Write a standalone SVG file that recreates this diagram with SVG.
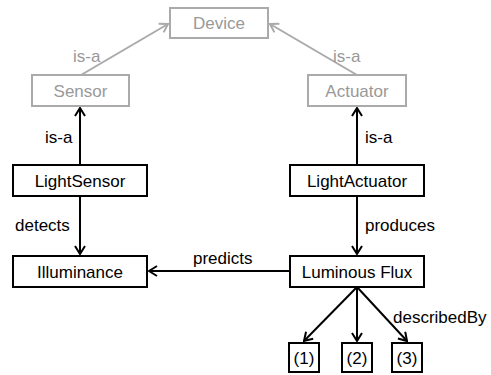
<svg xmlns="http://www.w3.org/2000/svg" width="491" height="375" viewBox="0 0 491 375">
<defs>
<style>
.box{fill:#fff;stroke:#000;stroke-width:2}
.gbox{fill:#fff;stroke:#aaa;stroke-width:2}
.t{font-family:"Liberation Sans",Arial,sans-serif;font-size:17px;fill:#000;text-anchor:middle}
.lbl{font-family:"Liberation Sans",Arial,sans-serif;font-size:17px;fill:#000}
.gt{fill:#999}
.e{stroke:#000;stroke-width:2;fill:none;marker-end:url(#ah)}
.ge{stroke:#aaa;stroke-width:2;fill:none;marker-end:url(#gah)}
</style>
<marker id="ah" viewBox="0 0 10 12" refX="9" refY="6" markerWidth="10" markerHeight="12" markerUnits="userSpaceOnUse" orient="auto">
<path d="M1,1 L9,6 L1,11" fill="none" stroke="#000" stroke-width="2"/>
</marker>
<marker id="gah" viewBox="0 0 10 12" refX="9" refY="6" markerWidth="10" markerHeight="12" markerUnits="userSpaceOnUse" orient="auto">
<path d="M1,1 L9,6 L1,11" fill="none" stroke="#aaa" stroke-width="2"/>
</marker>
</defs>
<g id="connectors">
<line class="ge" x1="81" y1="75" x2="168" y2="24"/>
<line class="ge" x1="357" y1="75" x2="270" y2="24"/>
<line class="e" x1="80" y1="165" x2="80" y2="108"/>
<line class="e" x1="357" y1="165" x2="357" y2="108"/>
<line class="e" x1="80" y1="196" x2="80" y2="254"/>
<line class="e" x1="357" y1="196" x2="357" y2="254"/>
<line class="e" x1="290" y1="271" x2="149" y2="271"/>
<line class="e" x1="357" y1="287" x2="304" y2="341"/>
<line class="e" x1="357" y1="287" x2="357" y2="341"/>
<line class="e" x1="357" y1="287" x2="407" y2="341"/>
<text class="lbl gt" x="73" y="62">is-a</text>
<text class="lbl gt" x="333" y="62">is-a</text>
<text class="lbl" x="45" y="143">is-a</text>
<text class="lbl" x="365" y="143">is-a</text>
<text class="lbl" x="15" y="231">detects</text>
<text class="lbl" x="365" y="231">produces</text>
<text class="lbl" x="193" y="264">predicts</text>
<text class="lbl" x="393" y="323">describedBy</text>
</g>
<g id="device"><rect class="gbox" x="170" y="8" width="98" height="30"/><text class="t gt" x="219" y="29">Device</text></g>
<g id="sensor"><rect class="gbox" x="32" y="75" width="97" height="31"/><text class="t gt" x="80.5" y="97">Sensor</text></g>
<g id="actuator"><rect class="gbox" x="308" y="75" width="98" height="31"/><text class="t gt" x="357" y="97">Actuator</text></g>
<g id="lightsensor"><rect class="box" x="13" y="165" width="134" height="31"/><text class="t" x="80" y="187">LightSensor</text></g>
<g id="lightactuator"><rect class="box" x="290" y="165" width="134" height="31"/><text class="t" x="357" y="187">LightActuator</text></g>
<g id="illuminance"><rect class="box" x="13" y="256" width="134" height="31"/><text class="t" x="80" y="278">Illuminance</text></g>
<g id="luminousflux"><rect class="box" x="290" y="256" width="134" height="31"/><text class="t" x="357" y="278">Luminous Flux</text></g>
<g id="n1"><rect class="box" x="289" y="343" width="30" height="29"/><text class="t" x="304" y="364">(1)</text></g>
<g id="n2"><rect class="box" x="342" y="343" width="30" height="29"/><text class="t" x="357" y="364">(2)</text></g>
<g id="n3"><rect class="box" x="392" y="343" width="30" height="29"/><text class="t" x="407" y="364">(3)</text></g>
</svg>
